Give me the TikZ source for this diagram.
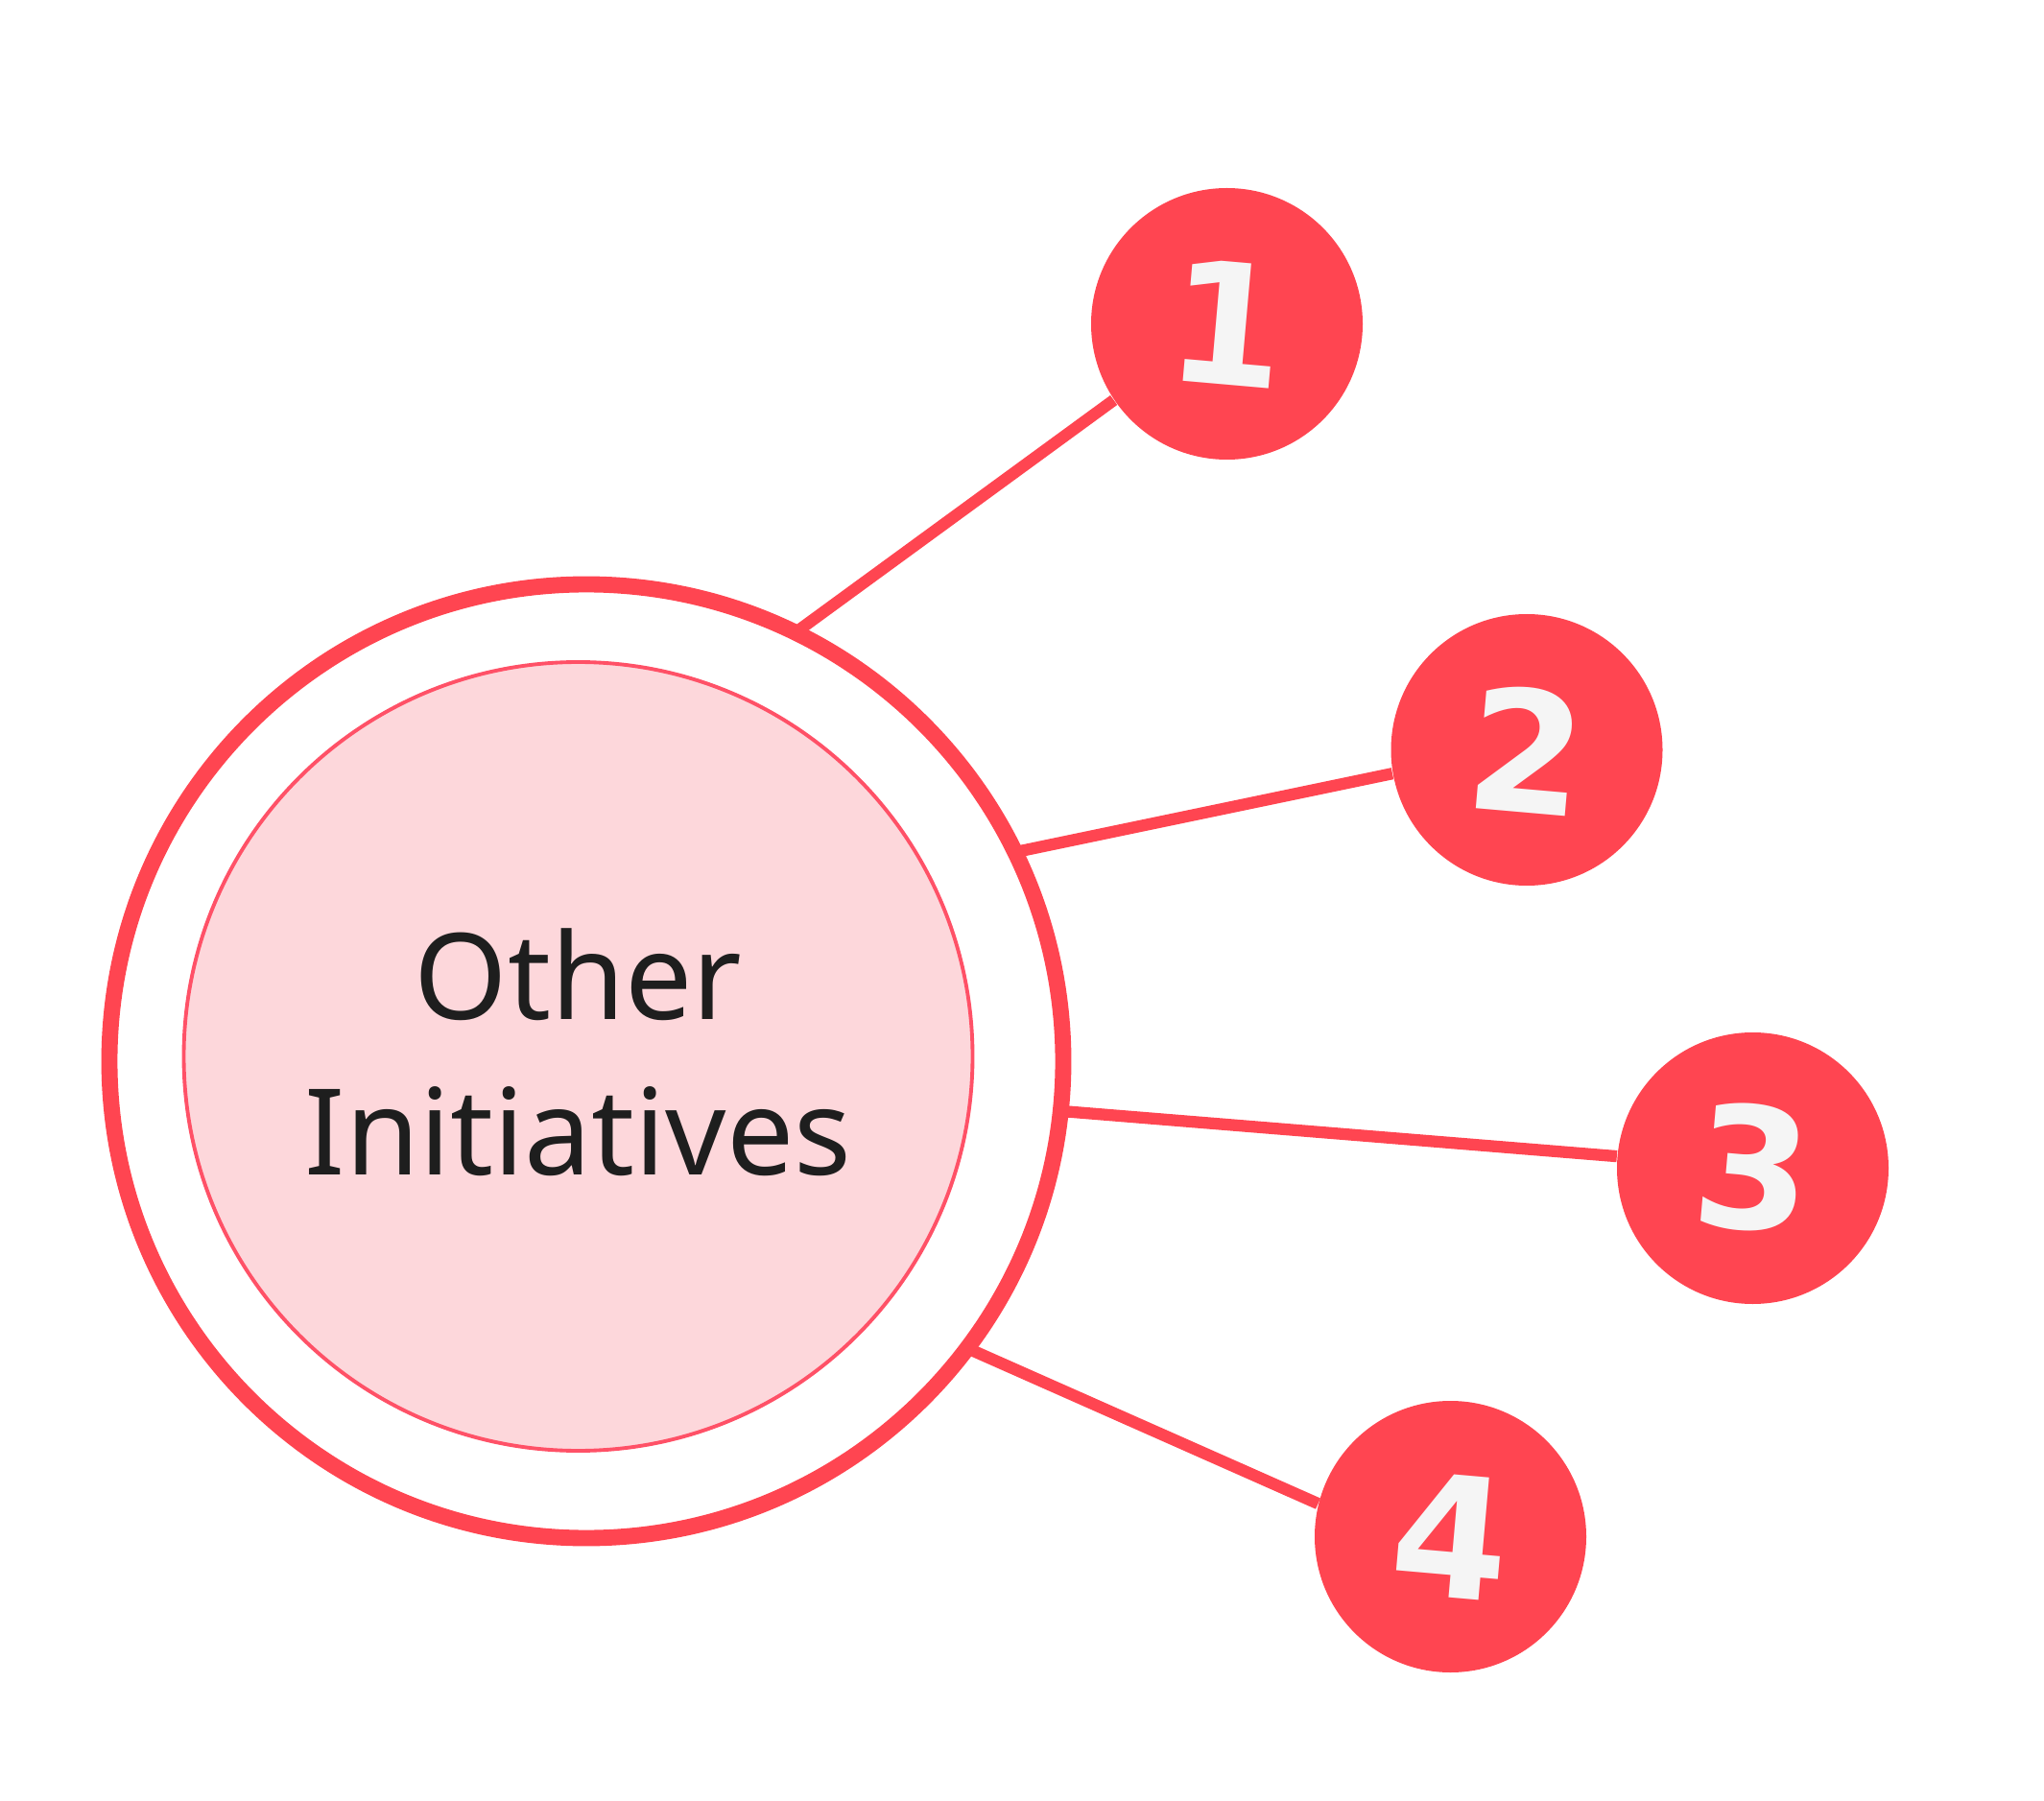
\documentclass[tikz,border=0pt]{standalone}
\usepackage{fontspec}
\setmainfont{Noto Sans}
\newfontfamily\digitfont{DejaVu Sans}
\usepackage{tikz}

\definecolor{dotred}{HTML}{FF4551}
\definecolor{rimred}{HTML}{FF5167}
\definecolor{corepink}{HTML}{FDD7DB}
\definecolor{inktext}{HTML}{1E1E1E}
\definecolor{digitwhite}{HTML}{F5F5F5}

\newcommand{\tilt}[1]{\rotatebox{-5}{#1}}

\begin{document}
\begin{tikzpicture}[
  ring/.style={circle, draw=dotred, line width=4.8pt, minimum size=9.94cm, inner sep=0pt, outer sep=0pt},
  core/.style={circle, draw=rimred, line width=1.1pt, fill=corepink, minimum size=8.22cm, inner sep=0pt},
  numdot/.style={circle, fill=dotred, minimum size=2.83cm, inner sep=0pt, text=digitwhite,
    font=\digitfont\bfseries\fontsize{50}{50}\selectfont},
  spoke/.style={dotred, line width=3.5pt}
]
  \useasboundingbox (0,0) rectangle (21.30,-18.77);

  % Centre circles
  \node[ring] (ring) at (6.11,-11.06) {};
  \node[core] (core) at (6.025,-11.01) {};
  \node[align=center, text=inktext, font=\fontsize{35.5}{46}\selectfont] (title) at (6.025,-10.97) {Other\\Initiatives};

  % Numbered dots
  \node[numdot] (n1) at (12.785,-3.375) {\tilt{1}};
  \node[numdot] (n2) at (15.91,-7.815) {\tilt{2}};
  \node[numdot] (n3) at (18.265,-12.175) {\tilt{3}};
  \node[numdot] (n4) at (15.115,-16.015) {\tilt{4}};

  % Spokes
  \draw[spoke] (ring.64) -- (n1.214);
  \draw[spoke] (ring.26) -- (n2.190);
  \draw[spoke] (ring.-6) -- (n3.175);
  \draw[spoke] (ring.-37) -- (n4.166);

\end{tikzpicture}
\end{document}
